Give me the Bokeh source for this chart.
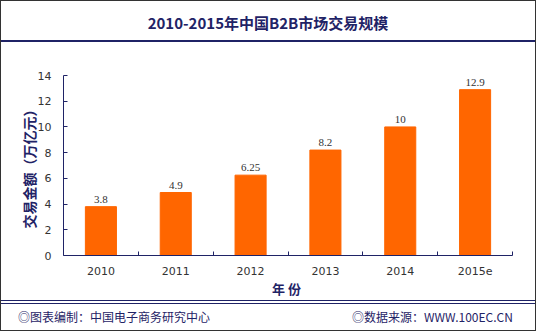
from bokeh.plotting import figure
from bokeh.models import FixedTicker, Range1d, ColumnDataSource, LabelSet, Div
from bokeh.layouts import column
from bokeh.embed import file_html
from bokeh.resources import INLINE

years = ["2010", "2011", "2012", "2013", "2014", "2015e"]
values = [3.8, 4.9, 6.25, 8.2, 10, 12.9]
value_labels = ["3.8", "4.9", "6.25", "8.2", "10", "12.9"]
y_ticks = [0, 2, 4, 6, 8, 10, 12, 14]
title_text = "2010-2015年中国B2B市场交易规模"
footer_left = "◎图表编制：中国电子商务研究中心"
footer_right = "◎数据来源：WWW.100EC.CN"

NAVY = "#1f2366"
BAR = "#ff6600"
TXT = "#333333"

W, H = 536, 331
IW = W - 2          # inner width (1px border each side)
TH = 41             # title block height (page y 1..42)
FH = 258            # figure height (page y 42..300)
BH = H - 2 - TH - FH  # footer height
xpos = [i + 0.5 for i in range(len(years))]

p = figure(width=IW, height=FH, output_backend="svg", toolbar_location=None,
           x_range=Range1d(0, len(years)), y_range=Range1d(0, 14),
           min_border_left=62, min_border_right=23,
           min_border_top=33, min_border_bottom=45)
p.background_fill_color = "white"
p.border_fill_color = "white"
p.outline_line_color = None
p.xgrid.visible = False
p.ygrid.visible = False

src = ColumnDataSource(dict(x=xpos, top=values, lab=value_labels))
p.vbar(x="x", top="top", width=0.415, bottom=0, source=src,
       fill_color=BAR, line_color=BAR)
p.add_layout(LabelSet(x="x", y="top", text="lab", source=src,
                      text_align="center", text_baseline="bottom",
                      y_offset=4, text_font_size="11px",
                      text_color=TXT, text_font="DejaVu Sans"))

xa = p.xaxis[0]
xa.ticker = FixedTicker(ticks=xpos, minor_ticks=list(range(1, len(years) + 1)))
xa.major_label_overrides = {x: y for x, y in zip(xpos, years)}
xa.major_tick_in = 0
xa.major_tick_out = 0
xa.minor_tick_in = 4
xa.minor_tick_out = 0
xa.minor_tick_line_color = NAVY
xa.axis_line_color = NAVY
xa.major_label_text_font = "DejaVu Sans"
xa.major_label_text_font_size = "11px"
xa.major_label_text_color = TXT
xa.major_label_standoff = 11
xa.axis_label = "年  份"
xa.axis_label_text_font = "Noto Sans CJK SC"
xa.axis_label_text_font_style = "bold"
xa.axis_label_text_font_size = "13px"
xa.axis_label_text_color = NAVY
xa.axis_label_standoff = 1

ya = p.yaxis[0]
ya.ticker = FixedTicker(ticks=y_ticks, minor_ticks=[])
ya.major_tick_in = 4
ya.major_tick_out = 0
ya.major_tick_line_color = NAVY
ya.axis_line_color = NAVY
ya.major_label_text_font = "DejaVu Sans"
ya.major_label_text_font_size = "11px"
ya.major_label_text_color = TXT
ya.major_label_standoff = 12
ya.axis_label = "交易金额（万亿元）"
ya.axis_label_text_font = "Noto Sans CJK SC"
ya.axis_label_text_font_style = "bold"
ya.axis_label_text_font_size = "14px"
ya.axis_label_text_color = NAVY
ya.axis_label_standoff = -4

title_div = Div(
    text=(f'<div style="width:{IW}px;height:{TH - 2}px;line-height:44px;'
          f'text-align:center;font-family:\'Noto Sans CJK SC\';font-weight:bold;'
          f'font-size:15px;color:{NAVY};overflow:hidden;">{title_text}</div>'),
    width=IW, height=TH,
    styles={"border-bottom": f"2px solid {NAVY}", "box-sizing": "border-box",
            "background": "white", "margin": "0", "padding": "0"})

footer_div = Div(
    text=(f'<div style="position:relative;width:{IW}px;height:{BH - 4}px;'
          f'font-family:\'Noto Sans CJK SC\';font-size:12px;color:{NAVY};'
          f'line-height:{BH - 4}px;">'
          f'<span style="position:absolute;left:17px;">{footer_left}</span>'
          f'<span style="position:absolute;left:351px;">{footer_right}</span>'
          f'</div>'),
    width=IW, height=BH,
    styles={"border-top": f"4px double {NAVY}", "box-sizing": "border-box",
            "background": "white", "margin": "0", "padding": "0"})

layout = column(title_div, p, footer_div, spacing=0,
                styles={"border": "1px solid #333333", "background": "white"})

open("out.html", "w").write(file_html(layout, INLINE))
